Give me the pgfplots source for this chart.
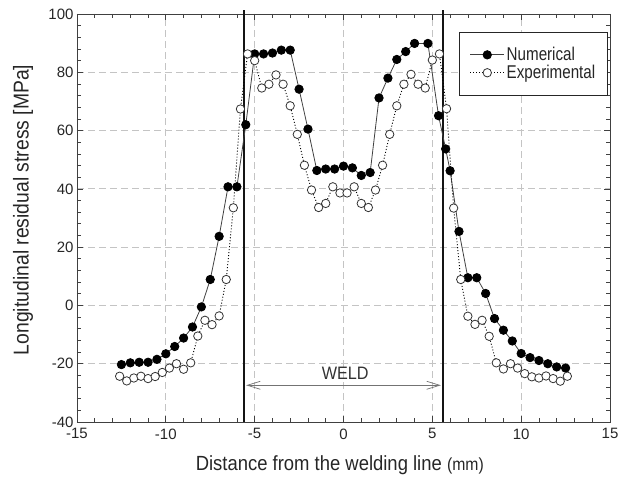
\documentclass[border=0pt]{standalone}
\usepackage{fontspec}
\setmainfont{Liberation Sans}
\newfontfamily\narrowfont[FakeStretch=0.9]{Liberation Sans}
\newfontfamily\legfont[FakeStretch=0.82]{Liberation Sans}
\usepackage{pgfplots}
\pgfplotsset{compat=1.18}
\usetikzlibrary{arrows.meta}
\definecolor{gridgray}{HTML}{C4C4C4}
\definecolor{framegray}{HTML}{404040}

\pgfplotstableread{
x y
-12.5 -20.3
-12.0 -19.7
-11.5 -19.5
-11.0 -19.5
-10.5 -18.5
-10.0 -16.6
-9.5 -14.1
-9.0 -11.2
-8.5 -7.4
-8.0 -0.5
-7.5 8.9
-7.0 23.7
-6.5 40.7
-6.0 40.7
-5.5 62.0
-5.0 86.3
-4.5 86.3
-4.0 86.6
-3.5 87.6
-3.0 87.6
-2.5 74.2
-2.0 60.5
-1.5 46.3
-1.0 46.8
-0.5 46.8
0.0 47.8
0.5 47.2
1.0 44.6
1.5 45.6
2.0 71.2
2.5 78.0
3.0 84.4
3.5 87.1
4.0 89.9
4.75 89.9
5.35 65.1
5.75 53.7
6.0 46.2
6.5 25.4
7.0 9.5
7.5 9.5
8.0 4.1
8.5 -4.5
9.0 -8.5
9.5 -12.2
10.0 -16.5
10.5 -17.9
11.0 -18.9
11.5 -20.0
12.0 -21.1
12.5 -21.5
}\numerical

\pgfplotstableread{
x y
-12.6 -24.3
-12.2 -25.9
-11.8 -24.9
-11.4 -24.3
-11.0 -25.1
-10.6 -24.4
-10.2 -23.0
-9.8 -21.5
-9.4 -20.0
-9.0 -21.9
-8.6 -19.7
-8.2 -10.5
-7.8 -5.1
-7.4 -6.6
-7.0 -3.6
-6.6 8.9
-6.2 33.5
-5.8 67.4
-5.4 86.3
-5.0 84.0
-4.6 74.6
-4.2 75.9
-3.8 79.1
-3.4 75.9
-3.0 68.5
-2.6 58.7
-2.2 48.1
-1.8 39.6
-1.4 33.6
-1.0 35.0
-0.6 40.7
-0.2 38.6
0.2 38.6
0.6 40.7
1.0 35.0
1.4 33.6
1.8 39.6
2.2 48.1
2.6 58.7
3.0 68.5
3.4 75.9
3.8 79.3
4.2 75.9
4.6 74.6
5.0 84.2
5.4 86.3
5.8 67.5
6.2 33.4
6.6 8.9
7.0 -3.7
7.4 -6.5
7.8 -5.1
8.2 -10.6
8.6 -19.7
9.0 -21.8
9.4 -20.0
9.8 -21.5
10.2 -23.4
10.6 -24.5
11.0 -24.9
11.4 -24.2
11.8 -25.1
12.2 -26.0
12.6 -24.3
}\experimental

\begin{document}
\begin{tikzpicture}
\useasboundingbox (-77pt,-64pt) rectangle (551pt,422pt);
\begin{axis}[
  scale only axis, width=533pt, height=408pt,
  xmin=-15, xmax=15, ymin=-40, ymax=100,
  xtick={-15,-10,...,15}, ytick={-40,-20,...,100},
  minor x tick num=4, minor y tick num=4,
  grid=major,
  major grid style={gridgray, dash pattern=on 7pt off 4pt, line width=0.8pt},
  axis line style={framegray, line width=0.9pt},
  tick style={framegray, line width=0.7pt},
  major tick length=6pt, minor tick length=4pt,
  tick label style={font=\fontsize{15}{17}\selectfont, text=black!85},
  xticklabel style={yshift=-3pt},
  /pgf/number format/assume math mode=true,
  xlabel={\narrowfont\fontsize{20.5}{23}\selectfont Distance from the welding line {\fontsize{17.5}{20}\selectfont(mm)}},
  ylabel={\narrowfont\fontsize{21.5}{24}\selectfont Longitudinal residual stress [MPa]},
  xlabel style={at={(axis description cs:0.493,-0.1054)}, anchor=center, text=black!85},
  ylabel style={at={(axis description cs:-0.1013,0.52)}, anchor=center, text=black!85},
  clip=false,
  legend cell align=left,
  legend style={at={(axis description cs:0.9957,0.956)}, anchor=north east,
    draw=black!85, line width=0.9pt, fill=white,
    font=\legfont\fontsize{18.5}{20}\selectfont, text=black!85,
    inner xsep=10pt, inner ysep=13pt, row sep=-1pt,
    /tikz/every even column/.append style={column sep=8pt}},
  legend image code/.code={\draw[mark repeat=2,mark phase=2,#1] plot coordinates {(0pt,0pt) (17pt,0pt) (34pt,0pt)};},
]
\draw[line width=2.8pt, black!92] (axis cs:-5.6,-40) -- (axis cs:-5.6,101.4);
\draw[line width=2.8pt, black!92] (axis cs:5.6,-40) -- (axis cs:5.6,101.4);
\draw[black!55, line width=0.7pt, {Straight Barb[length=13pt,width=8pt]}-{Straight Barb[length=13pt,width=8pt]}] (axis cs:-5.48,-27.4) -- (axis cs:5.48,-27.4);
\node[font=\narrowfont\fontsize{18}{20}\selectfont, text=black!80] at (axis cs:0.1,-23.4) {WELD};

\addplot[black!75, line width=0.8pt, mark=*, mark size=4.2pt, mark options={solid, fill=black, draw=black}] table {\numerical};
\addlegendentry{Numerical}
\addplot[black, line width=0.9pt, dash pattern=on 1pt off 2pt, mark=*, mark size=4.2pt, mark options={solid, fill=white, draw=black!80, line width=0.8pt}] table {\experimental};
\addlegendentry{Experimental}
\end{axis}
\end{tikzpicture}
\end{document}
